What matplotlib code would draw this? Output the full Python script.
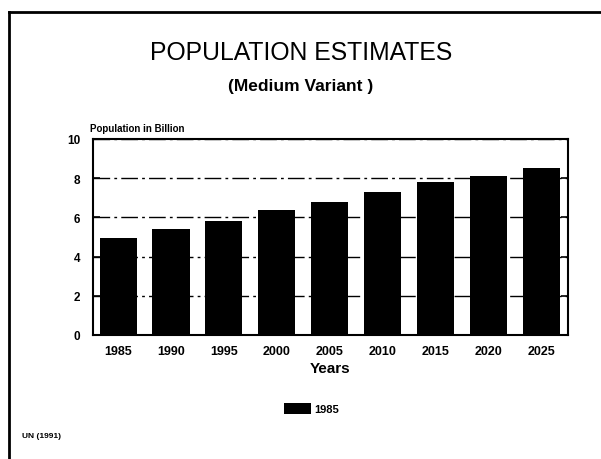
import matplotlib
matplotlib.use("Agg")
import matplotlib.pyplot as plt
from matplotlib.lines import Line2D
from matplotlib.patches import Patch

plt.rcParams['font.family'] = ['Liberation Sans', 'DejaVu Sans']

years = ["1985", "1990", "1995", "2000", "2005", "2010", "2015", "2020", "2025"]
population = [4.93, 5.39, 5.82, 6.38, 6.77, 7.28, 7.79, 8.13, 8.50]
series_label = "1985"
y_ticks = [0, 2, 4, 6, 8, 10]

fig = plt.figure(figsize=(6.01, 4.60), dpi=100)
ax = fig.add_axes([0.1542, 0.2696, 0.7909, 0.4261])

x = list(range(len(years)))
ax.bar(x, population, width=0.7, color="black", zorder=3)

ax.set_xlim(-0.48, len(years) - 0.5)
ax.set_ylim(0, 10)
ax.set_yticks(y_ticks)
ax.set_yticklabels([str(t) for t in y_ticks], fontsize=8.5, fontweight="bold")
ax.set_xticks(x)
ax.set_xticklabels(years, fontsize=9, fontweight="bold")
ax.tick_params(axis="x", length=0, pad=7)
ax.tick_params(axis="y", direction="in", length=5, width=1.2, right=True, pad=9)

ax.yaxis.grid(True, linestyle=(0, (12, 3, 2, 3)), linewidth=1.0, color="black", zorder=1)
ax.set_axisbelow(True)
for s in ax.spines.values():
    s.set_linewidth(1.5)

ax.set_xlabel("Years", fontsize=11, fontweight="bold", labelpad=3)
ax.text(-0.005, 1.03, "Population in Billion", fontsize=7, fontweight="bold",
        ha="left", va="bottom", transform=ax.transAxes)

# legend below the axis label
ax.legend(handles=[Patch(facecolor="black", label=series_label)],
          loc="center", bbox_to_anchor=(0.46, -0.375), frameon=False,
          prop={"weight": "bold", "size": 8},
          handlelength=2.4, handleheight=1.1, handletextpad=0.3)

# titles
fig.text(0.501, 1 - 53 / 460, "POPULATION ESTIMATES", fontsize=17.8,
         ha="center", va="center")
fig.text(0.501, 1 - 87 / 460, "(Medium Variant )", fontsize=12.5,
         fontweight="bold", ha="center", va="center")

# source note
fig.text(22 / 601, 1 - 437 / 460, "UN (1991)", fontsize=6, fontweight="bold",
         ha="left", va="center")

# page frame (left and top edges)
fig.add_artist(Line2D([9 / 601, 9 / 601], [0, 1 - 13 / 460], color="black",
                      linewidth=2, transform=fig.transFigure))
fig.add_artist(Line2D([9 / 601, 1], [1 - 13 / 460, 1 - 13 / 460], color="black",
                      linewidth=2, transform=fig.transFigure))

fig.savefig("out.png", dpi=100)
